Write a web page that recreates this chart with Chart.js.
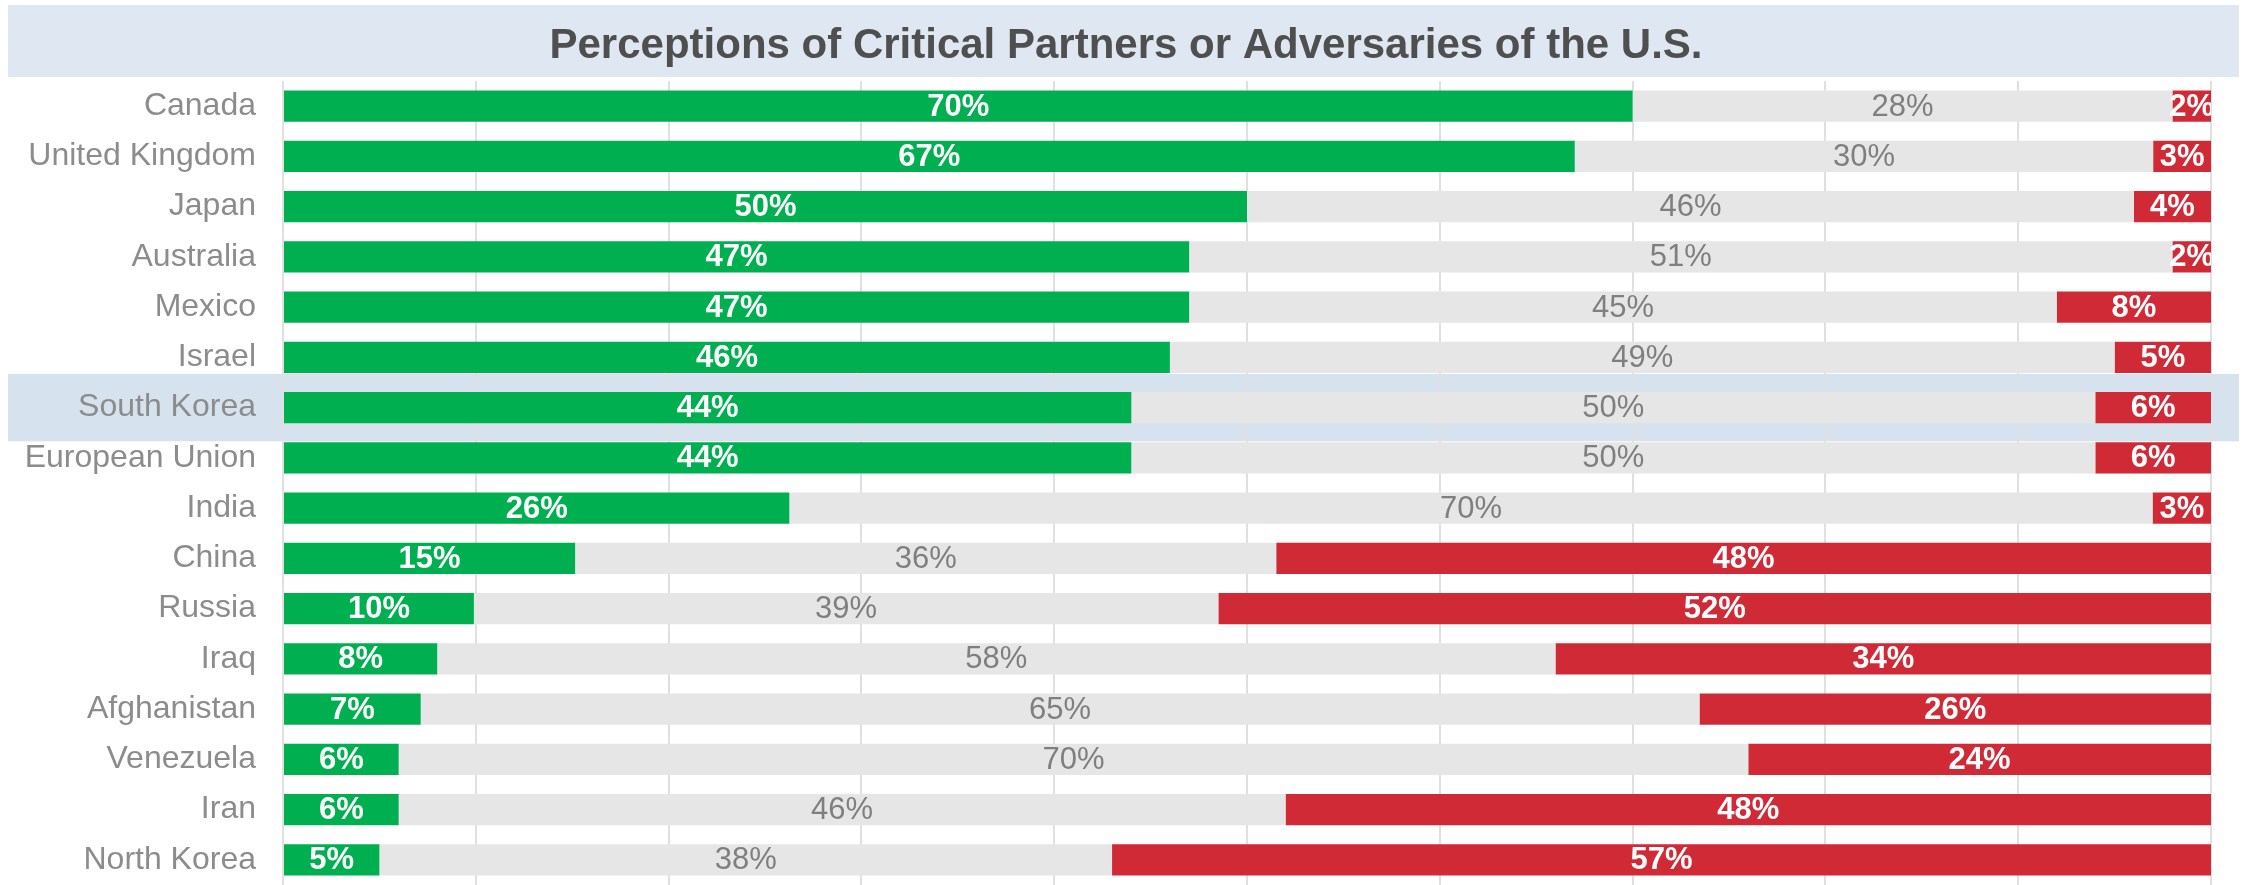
<!DOCTYPE html>
<html>
<head>
<meta charset="utf-8">
<script src="https://cdn.jsdelivr.net/npm/chart.js@4"></script>
<style>
  html, body { margin: 0; padding: 0; background: #fff; }
  #wrap { width: 2244px; height: 885px; }
</style>
</head>
<body>
<div id="wrap"><canvas id="perceptionChart" width="2244" height="885"></canvas></div>
<script>
// Dữ liệu
const categories = ['Canada', 'United Kingdom', 'Japan', 'Australia', 'Mexico', 'Israel', 'South Korea',
    'European Union', 'India', 'China', 'Russia', 'Iraq', 'Afghanistan', 'Venezuela', 'Iran', 'North Korea'];
const partner = [70, 67, 50, 47, 47, 46, 44, 44, 26, 15, 10, 8, 7, 6, 6, 5];
const neutral = [28, 30, 46, 51, 45, 49, 50, 50, 70, 36, 39, 58, 65, 70, 46, 38];
const adversary = [2, 3, 4, 2, 8, 5, 6, 6, 3, 48, 52, 34, 26, 24, 48, 57];
const xTicks = [0, 10, 20, 30, 40, 50, 60, 70, 80, 90, 100];
const titleText = 'Perceptions of Critical Partners or Adversaries of the U.S.';
const highlightCategory = 'South Korea';

const FONT = "'Liberation Sans', Arial, sans-serif";

// Thanh 100%: chuẩn hoá theo tổng mỗi hàng
const totals = categories.map((c, i) => partner[i] + neutral[i] + adversary[i]);
const share = arr => arr.map((v, i) => v / totals[i] * 100);

const rawSeries = [partner, neutral, adversary];
const labelStyles = [
    { color: '#ffffff', weight: 'bold' },
    { color: '#7f7f7f', weight: 'normal' },
    { color: '#ffffff', weight: 'bold' }
];

const backgroundPlugin = {
    id: 'bands',
    beforeDraw(chart) {
        const { ctx, chartArea, scales } = chart;
        ctx.save();
        ctx.fillStyle = '#ffffff';
        ctx.fillRect(0, 0, chart.width, chart.height);
        // Khung tiêu đề
        ctx.fillStyle = '#dfe8f2';
        ctx.fillRect(8, 5, chart.width - 13, chartArea.top - 9);
        // Hàng được tô sáng
        const idx = categories.indexOf(highlightCategory);
        const yc = scales.y.getPixelForValue(idx);
        const slot = (chartArea.bottom - chartArea.top) / categories.length;
        ctx.fillStyle = '#d6e3ee';
        ctx.fillRect(8, yc - slot * 0.67, chart.width - 13, slot * 1.34);
        // Tiêu đề
        ctx.fillStyle = '#4f4f4f';
        ctx.font = 'bold 42px ' + FONT;
        ctx.textAlign = 'center';
        ctx.textBaseline = 'middle';
        ctx.fillText(titleText, chart.width / 2 + 4, (5 + chartArea.top - 4) / 2 + 5);
        ctx.restore();
    }
};

const labelPlugin = {
    id: 'segmentLabels',
    afterDatasetsDraw(chart) {
        const { ctx, chartArea } = chart;
        ctx.save();
        ctx.beginPath();
        ctx.rect(chartArea.left, chartArea.top, chartArea.right - chartArea.left, chartArea.bottom - chartArea.top);
        ctx.clip();
        ctx.textAlign = 'center';
        ctx.textBaseline = 'middle';
        chart.data.datasets.forEach((ds, di) => {
            const meta = chart.getDatasetMeta(di);
            const st = labelStyles[di];
            ctx.fillStyle = st.color;
            ctx.font = st.weight + ' 31px ' + FONT;
            meta.data.forEach((bar, i) => {
                const cx = (bar.x + bar.base) / 2;
                ctx.fillText(rawSeries[di][i] + '%', cx, bar.y + 1);
            });
        });
        ctx.restore();
    }
};

new Chart(document.getElementById('perceptionChart'), {
    type: 'bar',
    data: {
        labels: categories,
        datasets: [
            { label: 'Partner', data: share(partner), backgroundColor: '#00b050' },
            { label: 'Neutral', data: share(neutral), backgroundColor: '#e7e6e6' },
            { label: 'Adversary', data: share(adversary), backgroundColor: '#d02a37' }
        ]
    },
    options: {
        indexAxis: 'y',
        responsive: false,
        animation: false,
        devicePixelRatio: 1,
        layout: { padding: { top: 81, right: 33, bottom: -4, left: 0 } },
        datasets: { bar: { barPercentage: 0.62, categoryPercentage: 1.0, borderWidth: 0 } },
        scales: {
            x: {
                stacked: true,
                min: 0,
                max: 100,
                afterBuildTicks(scale) { scale.ticks = xTicks.map(v => ({ value: v })); },
                afterFit(scale) { scale.height = 0; scale.paddingLeft = 0; scale.paddingRight = 0; },
                ticks: { display: false },
                grid: { color: '#e0e0e0', lineWidth: 2, drawTicks: false },
                border: { display: false }
            },
            y: {
                stacked: true,
                afterFit(scale) {
                    scale.width = 283;
                    scale.paddingTop = 0;
                    scale.paddingBottom = 0;
                },
                grid: { display: false, drawTicks: false, tickLength: 0 },
                border: { display: false },
                ticks: { color: '#8c8c8c', padding: 27, font: { family: FONT, size: 32 } }
            }
        },
        plugins: {
            legend: { display: false },
            tooltip: { enabled: false },
            title: { display: false }
        }
    },
    plugins: [backgroundPlugin, labelPlugin]
});
</script>
</body>
</html>
